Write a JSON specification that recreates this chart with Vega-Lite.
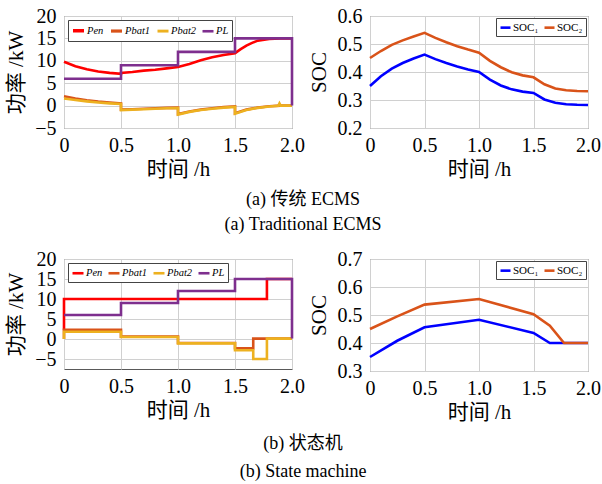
{
  "$schema": "https://vega.github.io/schema/vega-lite/v6.json",
  "padding": {"left": 5, "top": 5, "right": 0, "bottom": 5},
  "background": "white",
  "config": {
    "font": "Liberation Serif",
    "style": {
      "guide-label": {"font": "Liberation Serif", "fill": "black"},
      "guide-title": {"font": "Liberation Serif, Noto Sans CJK SC", "fill": "black"},
      "group-title": {"font": "Liberation Serif, Noto Sans CJK SC", "fill": "black"}
    },
    "title": {"font": "Liberation Serif, Noto Sans CJK SC"},
    "view": {"stroke": "#595959", "strokeWidth": 1},
    "axis": {
      "labelFont": "Liberation Serif",
      "labelFontSize": 20,
      "labelColor": "black",
      "titleFont": "Liberation Serif, Noto Sans CJK SC",
      "titleFontSize": 21,
      "titleFontWeight": "normal",
      "titleColor": "black",
      "gridColor": "#d0d0d0",
      "domain": false,
      "ticks": false,
      "labelPadding": 7,
      "labelFlush": false,
      "labelOverlap": false,
      "labelBound": false
    },
    "axisX": {"titlePadding": 3},
    "axisY": {"titlePadding": 8, "labelPadding": 8},
    "legend": {
      "direction": "horizontal",
      "symbolType": "stroke",
      "symbolStrokeWidth": 2.5,
      "labelFont": "Liberation Serif",
      "labelColor": "black",
      "columnPadding": 0,
      "labelOffset": 1,
      "padding": 3,
      "strokeColor": "#444444",
      "fillColor": "white",
      "rowPadding": 0,
      "cornerRadius": 0
    },
    "line": {"strokeWidth": 2.6}
  },
  "datasets": {
    "pa": [
      {"t": 0, "v": 9.8, "s": "Pen"}, {"t": 0.1, "v": 8.8, "s": "Pen"}, {"t": 0.2, "v": 8.1, "s": "Pen"}, {"t": 0.3, "v": 7.6, "s": "Pen"}, {"t": 0.4, "v": 7.3, "s": "Pen"}, {"t": 0.5, "v": 7.1, "s": "Pen"}, {"t": 0.5, "v": 7.3, "s": "Pen"}, {"t": 0.6, "v": 7.5, "s": "Pen"}, {"t": 0.7, "v": 7.8, "s": "Pen"}, {"t": 0.8, "v": 8.0, "s": "Pen"}, {"t": 0.9, "v": 8.3, "s": "Pen"}, {"t": 1.0, "v": 8.6, "s": "Pen"}, {"t": 1.1, "v": 9.3, "s": "Pen"}, {"t": 1.2, "v": 10.1, "s": "Pen"}, {"t": 1.3, "v": 10.8, "s": "Pen"}, {"t": 1.4, "v": 11.3, "s": "Pen"}, {"t": 1.5, "v": 11.7, "s": "Pen"}, {"t": 1.55, "v": 12.6, "s": "Pen"}, {"t": 1.6, "v": 13.4, "s": "Pen"}, {"t": 1.65, "v": 14.0, "s": "Pen"}, {"t": 1.7, "v": 14.5, "s": "Pen"}, {"t": 1.8, "v": 14.9, "s": "Pen"}, {"t": 1.9, "v": 15.0, "s": "Pen"}, {"t": 2.0, "v": 15.0, "s": "Pen"},
      {"t": 0, "v": 2.1, "s": "Pbat1"}, {"t": 0.1, "v": 1.6, "s": "Pbat1"}, {"t": 0.2, "v": 1.2, "s": "Pbat1"}, {"t": 0.3, "v": 0.9, "s": "Pbat1"}, {"t": 0.4, "v": 0.7, "s": "Pbat1"}, {"t": 0.5, "v": 0.5, "s": "Pbat1"}, {"t": 0.5, "v": -0.9, "s": "Pbat1"}, {"t": 0.6, "v": -0.8, "s": "Pbat1"}, {"t": 0.7, "v": -0.7, "s": "Pbat1"}, {"t": 0.8, "v": -0.6, "s": "Pbat1"}, {"t": 0.9, "v": -0.5, "s": "Pbat1"}, {"t": 1.0, "v": -0.45, "s": "Pbat1"}, {"t": 1.0, "v": -1.9, "s": "Pbat1"}, {"t": 1.1, "v": -1.3, "s": "Pbat1"}, {"t": 1.2, "v": -0.9, "s": "Pbat1"}, {"t": 1.3, "v": -0.6, "s": "Pbat1"}, {"t": 1.4, "v": -0.35, "s": "Pbat1"}, {"t": 1.5, "v": -0.2, "s": "Pbat1"}, {"t": 1.5, "v": -1.7, "s": "Pbat1"}, {"t": 1.6, "v": -0.9, "s": "Pbat1"}, {"t": 1.7, "v": -0.45, "s": "Pbat1"}, {"t": 1.8, "v": -0.15, "s": "Pbat1"}, {"t": 1.9, "v": 0, "s": "Pbat1"}, {"t": 2.0, "v": 0, "s": "Pbat1"},
      {"t": 0, "v": 1.6, "s": "Pbat2"}, {"t": 0.1, "v": 1.25, "s": "Pbat2"}, {"t": 0.2, "v": 0.95, "s": "Pbat2"}, {"t": 0.3, "v": 0.7, "s": "Pbat2"}, {"t": 0.4, "v": 0.5, "s": "Pbat2"}, {"t": 0.5, "v": 0.35, "s": "Pbat2"}, {"t": 0.5, "v": -1.0, "s": "Pbat2"}, {"t": 0.6, "v": -0.9, "s": "Pbat2"}, {"t": 0.7, "v": -0.8, "s": "Pbat2"}, {"t": 0.8, "v": -0.7, "s": "Pbat2"}, {"t": 0.9, "v": -0.6, "s": "Pbat2"}, {"t": 1.0, "v": -0.55, "s": "Pbat2"}, {"t": 1.0, "v": -2.0, "s": "Pbat2"}, {"t": 1.1, "v": -1.4, "s": "Pbat2"}, {"t": 1.2, "v": -1.0, "s": "Pbat2"}, {"t": 1.3, "v": -0.7, "s": "Pbat2"}, {"t": 1.4, "v": -0.45, "s": "Pbat2"}, {"t": 1.5, "v": -0.3, "s": "Pbat2"}, {"t": 1.5, "v": -1.8, "s": "Pbat2"}, {"t": 1.6, "v": -1.0, "s": "Pbat2"}, {"t": 1.7, "v": -0.5, "s": "Pbat2"}, {"t": 1.8, "v": -0.2, "s": "Pbat2"}, {"t": 1.88, "v": -0.05, "s": "Pbat2"}, {"t": 1.89, "v": 0.5, "s": "Pbat2"}, {"t": 1.9, "v": 0, "s": "Pbat2"}, {"t": 2.0, "v": 0, "s": "Pbat2"},
      {"t": 0, "v": 6, "s": "PL"}, {"t": 0.5, "v": 6, "s": "PL"}, {"t": 0.5, "v": 9, "s": "PL"}, {"t": 1.0, "v": 9, "s": "PL"}, {"t": 1.0, "v": 12, "s": "PL"}, {"t": 1.5, "v": 12, "s": "PL"}, {"t": 1.5, "v": 15, "s": "PL"}, {"t": 2.0, "v": 15, "s": "PL"}, {"t": 2.0, "v": 0, "s": "PL"}
    ],
    "sa": [
      {"t": 0, "v": 0.35, "s": "SOC₁"}, {"t": 0.1, "v": 0.385, "s": "SOC₁"}, {"t": 0.2, "v": 0.412, "s": "SOC₁"}, {"t": 0.3, "v": 0.432, "s": "SOC₁"}, {"t": 0.4, "v": 0.448, "s": "SOC₁"}, {"t": 0.5, "v": 0.462, "s": "SOC₁"}, {"t": 0.6, "v": 0.446, "s": "SOC₁"}, {"t": 0.7, "v": 0.432, "s": "SOC₁"}, {"t": 0.8, "v": 0.42, "s": "SOC₁"}, {"t": 0.9, "v": 0.409, "s": "SOC₁"}, {"t": 1.0, "v": 0.4, "s": "SOC₁"}, {"t": 1.1, "v": 0.373, "s": "SOC₁"}, {"t": 1.2, "v": 0.352, "s": "SOC₁"}, {"t": 1.3, "v": 0.338, "s": "SOC₁"}, {"t": 1.4, "v": 0.33, "s": "SOC₁"}, {"t": 1.5, "v": 0.325, "s": "SOC₁"}, {"t": 1.6, "v": 0.302, "s": "SOC₁"}, {"t": 1.7, "v": 0.29, "s": "SOC₁"}, {"t": 1.8, "v": 0.285, "s": "SOC₁"}, {"t": 1.9, "v": 0.283, "s": "SOC₁"}, {"t": 2.0, "v": 0.282, "s": "SOC₁"},
      {"t": 0, "v": 0.45, "s": "SOC₂"}, {"t": 0.1, "v": 0.475, "s": "SOC₂"}, {"t": 0.2, "v": 0.497, "s": "SOC₂"}, {"t": 0.3, "v": 0.513, "s": "SOC₂"}, {"t": 0.4, "v": 0.527, "s": "SOC₂"}, {"t": 0.5, "v": 0.54, "s": "SOC₂"}, {"t": 0.6, "v": 0.522, "s": "SOC₂"}, {"t": 0.7, "v": 0.506, "s": "SOC₂"}, {"t": 0.8, "v": 0.492, "s": "SOC₂"}, {"t": 0.9, "v": 0.48, "s": "SOC₂"}, {"t": 1.0, "v": 0.469, "s": "SOC₂"}, {"t": 1.1, "v": 0.44, "s": "SOC₂"}, {"t": 1.2, "v": 0.417, "s": "SOC₂"}, {"t": 1.3, "v": 0.399, "s": "SOC₂"}, {"t": 1.4, "v": 0.388, "s": "SOC₂"}, {"t": 1.5, "v": 0.381, "s": "SOC₂"}, {"t": 1.6, "v": 0.356, "s": "SOC₂"}, {"t": 1.7, "v": 0.341, "s": "SOC₂"}, {"t": 1.8, "v": 0.335, "s": "SOC₂"}, {"t": 1.9, "v": 0.332, "s": "SOC₂"}, {"t": 2.0, "v": 0.331, "s": "SOC₂"}
    ],
    "pb": [
      {"t": 0, "v": 2.2, "s": "Pen"}, {"t": 0, "v": 10, "s": "Pen"}, {"t": 1.78, "v": 10, "s": "Pen"}, {"t": 1.78, "v": 15, "s": "Pen"}, {"t": 2.0, "v": 15, "s": "Pen"},
      {"t": 0, "v": 0, "s": "Pbat1"}, {"t": 0, "v": 2.3, "s": "Pbat1"}, {"t": 0.5, "v": 2.3, "s": "Pbat1"}, {"t": 0.5, "v": 0.6, "s": "Pbat1"}, {"t": 1.0, "v": 0.6, "s": "Pbat1"}, {"t": 1.0, "v": -1.0, "s": "Pbat1"}, {"t": 1.5, "v": -1.0, "s": "Pbat1"}, {"t": 1.5, "v": -2.3, "s": "Pbat1"}, {"t": 1.66, "v": -2.3, "s": "Pbat1"}, {"t": 1.66, "v": 0.1, "s": "Pbat1"}, {"t": 1.78, "v": 0.1, "s": "Pbat1"}, {"t": 2.0, "v": 0.1, "s": "Pbat1"},
      {"t": 0, "v": 0, "s": "Pbat2"}, {"t": 0, "v": 1.8, "s": "Pbat2"}, {"t": 0.5, "v": 1.8, "s": "Pbat2"}, {"t": 0.5, "v": 0.5, "s": "Pbat2"}, {"t": 1.0, "v": 0.5, "s": "Pbat2"}, {"t": 1.0, "v": -1.1, "s": "Pbat2"}, {"t": 1.5, "v": -1.1, "s": "Pbat2"}, {"t": 1.5, "v": -2.8, "s": "Pbat2"}, {"t": 1.66, "v": -2.8, "s": "Pbat2"}, {"t": 1.66, "v": -5.0, "s": "Pbat2"}, {"t": 1.78, "v": -5.0, "s": "Pbat2"}, {"t": 1.78, "v": 0.1, "s": "Pbat2"}, {"t": 2.0, "v": 0.1, "s": "Pbat2"},
      {"t": 0, "v": 6, "s": "PL"}, {"t": 0.5, "v": 6, "s": "PL"}, {"t": 0.5, "v": 9, "s": "PL"}, {"t": 1.0, "v": 9, "s": "PL"}, {"t": 1.0, "v": 12, "s": "PL"}, {"t": 1.5, "v": 12, "s": "PL"}, {"t": 1.5, "v": 15, "s": "PL"}, {"t": 2.0, "v": 15, "s": "PL"}, {"t": 2.0, "v": 0.1, "s": "PL"}
    ],
    "sb": [
      {"t": 0, "v": 0.35, "s": "SOC₁"}, {"t": 0.25, "v": 0.408, "s": "SOC₁"}, {"t": 0.5, "v": 0.456, "s": "SOC₁"}, {"t": 1.0, "v": 0.483, "s": "SOC₁"}, {"t": 1.5, "v": 0.436, "s": "SOC₁"}, {"t": 1.65, "v": 0.4, "s": "SOC₁"}, {"t": 2.0, "v": 0.4, "s": "SOC₁"},
      {"t": 0, "v": 0.45, "s": "SOC₂"}, {"t": 0.25, "v": 0.495, "s": "SOC₂"}, {"t": 0.5, "v": 0.537, "s": "SOC₂"}, {"t": 1.0, "v": 0.557, "s": "SOC₂"}, {"t": 1.5, "v": 0.503, "s": "SOC₂"}, {"t": 1.65, "v": 0.462, "s": "SOC₂"}, {"t": 1.78, "v": 0.4, "s": "SOC₂"}, {"t": 2.0, "v": 0.4, "s": "SOC₂"}
    ]
  },
  "spacing": 14,
  "resolve": {"scale": {"color": "independent", "strokeWidth": "independent"}, "legend": {"color": "independent"}},
  "vconcat": [
    {
      "spacing": 2,
      "resolve": {"scale": {"color": "independent", "strokeWidth": "independent"}, "legend": {"color": "independent"}},
      "title": {"text": ["(a) 传统 ECMS", "(a) Traditional ECMS"], "orient": "bottom", "anchor": "middle", "font": "Liberation Serif, Noto Sans CJK SC", "fontSize": 18, "fontWeight": "normal", "lineHeight": 25, "offset": 11, "color": "black"},
      "hconcat": [
        {
          "width": 228, "height": 112,
          "data": {"name": "pa"},
          "mark": {"type": "line"},
          "encoding": {
            "x": {"field": "t", "type": "quantitative", "scale": {"domain": [0, 2], "nice": false}, "axis": {"values": [0, 0.5, 1, 1.5, 2], "labelFont": "Liberation Serif", "labelExpr": "datum.value == 0 ? '0' : format(datum.value, '.1f')", "title": "时间 /h"}},
            "y": {"field": "v", "type": "quantitative", "scale": {"domain": [-5, 20], "nice": false}, "axis": {"values": [-5, 0, 5, 10, 15, 20], "labelFont": "Liberation Serif", "title": "功率 /kW"}},
            "color": {"field": "s", "type": "nominal", "scale": {"domain": ["Pen", "Pbat1", "Pbat2", "PL"], "range": ["#FF0000", "#D95319", "#EDB120", "#7E2F8E"]}, "legend": {"title": null, "orient": "top-left", "offset": 4, "symbolSize": 121, "labelFontSize": 10.5, "labelFont": "Liberation Serif", "labelFontStyle": "italic"}},
            "strokeWidth": {"field": "s", "type": "nominal", "scale": {"domain": ["Pen", "Pbat1", "Pbat2", "PL"], "range": [3.5, 2.6, 2.6, 2.6]}, "legend": null},
            "order": {"value": null}
          }
        },
        {
          "width": 218, "height": 112,
          "data": {"name": "sa"},
          "mark": {"type": "line"},
          "encoding": {
            "x": {"field": "t", "type": "quantitative", "scale": {"domain": [0, 2], "nice": false}, "axis": {"values": [0, 0.5, 1, 1.5, 2], "labelFont": "Liberation Serif", "labelExpr": "datum.value == 0 ? '0' : format(datum.value, '.1f')", "title": "时间 /h"}},
            "y": {"field": "v", "type": "quantitative", "scale": {"domain": [0.2, 0.6], "nice": false}, "axis": {"values": [0.2, 0.3, 0.4, 0.5, 0.6], "labelFont": "Liberation Serif", "format": ".1f", "title": "SOC"}},
            "color": {"field": "s", "type": "nominal", "scale": {"domain": ["SOC₁", "SOC₂"], "range": ["#0000FF", "#D95319"]}, "legend": {"title": null, "orient": "top-right", "offset": 2, "symbolSize": 100, "labelFontSize": 11, "labelFont": "Liberation Serif"}},
            "order": {"value": null}
          }
        }
      ]
    },
    {
      "spacing": 2,
      "resolve": {"scale": {"color": "independent"}, "legend": {"color": "independent"}},
      "title": {"text": ["(b) 状态机", "(b) State machine"], "orient": "bottom", "anchor": "middle", "font": "Liberation Serif, Noto Sans CJK SC", "fontSize": 18, "fontWeight": "normal", "lineHeight": 28, "offset": 12, "color": "black"},
      "hconcat": [
        {
          "width": 228, "height": 110,
          "data": {"name": "pb"},
          "mark": {"type": "line"},
          "encoding": {
            "x": {"field": "t", "type": "quantitative", "scale": {"domain": [0, 2], "nice": false}, "axis": {"values": [0, 0.5, 1, 1.5, 2], "labelFont": "Liberation Serif", "labelExpr": "datum.value == 0 ? '0' : format(datum.value, '.1f')", "title": "时间 /h"}},
            "y": {"field": "v", "type": "quantitative", "scale": {"domain": [-7.5, 20], "nice": false}, "axis": {"values": [-5, 0, 5, 10, 15, 20], "labelFont": "Liberation Serif", "title": "功率 /kW"}},
            "color": {"field": "s", "type": "nominal", "scale": {"domain": ["Pen", "Pbat1", "Pbat2", "PL"], "range": ["#FF0000", "#D95319", "#EDB120", "#7E2F8E"]}, "legend": {"title": null, "orient": "top-left", "offset": 4, "symbolSize": 121, "labelFontSize": 10.5, "labelFont": "Liberation Serif", "labelFontStyle": "italic"}},
            "order": {"value": null}
          }
        },
        {
          "width": 218, "height": 112,
          "data": {"name": "sb"},
          "mark": {"type": "line"},
          "encoding": {
            "x": {"field": "t", "type": "quantitative", "scale": {"domain": [0, 2], "nice": false}, "axis": {"values": [0, 0.5, 1, 1.5, 2], "labelFont": "Liberation Serif", "labelExpr": "datum.value == 0 ? '0' : format(datum.value, '.1f')", "title": "时间 /h"}},
            "y": {"field": "v", "type": "quantitative", "scale": {"domain": [0.3, 0.7], "nice": false}, "axis": {"values": [0.3, 0.4, 0.5, 0.6, 0.7], "labelFont": "Liberation Serif", "format": ".1f", "title": "SOC"}},
            "color": {"field": "s", "type": "nominal", "scale": {"domain": ["SOC₁", "SOC₂"], "range": ["#0000FF", "#D95319"]}, "legend": {"title": null, "orient": "top-right", "offset": 2, "symbolSize": 100, "labelFontSize": 11, "labelFont": "Liberation Serif"}},
            "order": {"value": null}
          }
        }
      ]
    }
  ]
}
